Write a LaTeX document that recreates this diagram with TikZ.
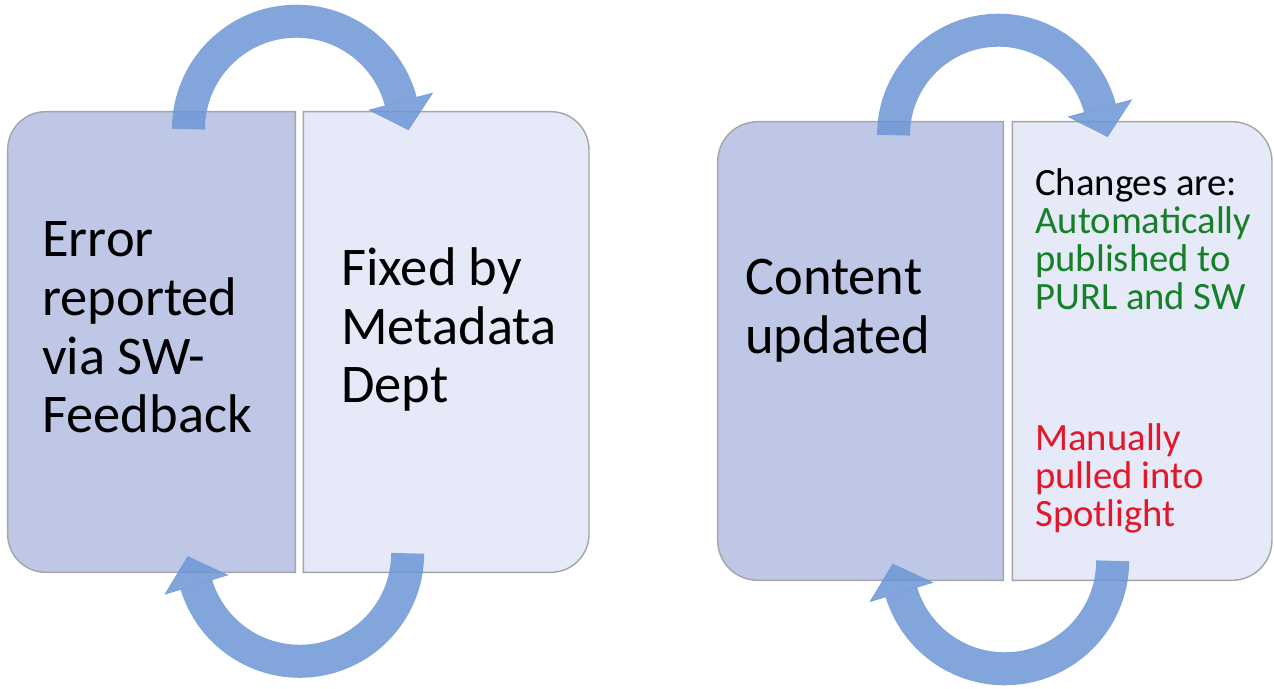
\documentclass[tikz,border=0pt]{standalone}
\usepackage{fontspec}
\setmainfont{Carlito}
\usetikzlibrary{arrows.meta, positioning}
\definecolor{darkbox}   {RGB}{190, 200, 230}
\definecolor{lightbox}  {RGB}{229, 233, 248}
\definecolor{edgegray}  {RGB}{165, 165, 165}
\definecolor{arrowblue} {RGB}{108, 150, 214}
\definecolor{autogreen} {RGB}{ 22, 128,  40}
\definecolor{manualred} {RGB}{228,  22,  40}
\tikzset{
	stagebox/.style={
		rectangle, inner sep=0pt, draw=none,
		minimum height=9.2cm
	},
	boxline/.style={
		draw=edgegray, line width=0.8pt
	},
	bigtext/.style={
		anchor=north west, inner sep=0pt, align=left,
		font=\fontsize{31}{33.5}\selectfont
	},
	smalltext/.style={
		anchor=north west, inner sep=0pt, align=left,
		font=\fontsize{22}{21.6}\selectfont
	},
	cyclearrow/.style={
		-{Triangle[length=0.6cm, width=1.34cm, line width=0.4pt]},
		line width=0.66cm, draw=arrowblue, opacity=0.85
	}
}
\begin{document}
\begin{tikzpicture}[x=0.02cm, y=0.02cm]
		\useasboundingbox (0,0) rectangle (1274,-689);
		
		%% ===============================
		%%  LEFT CYCLE
		%% ===============================
		\node[stagebox, minimum width=5.74cm] (err) at (151.5,-342) {};
		\node[stagebox, minimum width=5.7cm, right=0.16cm of err] (fix) {};
		
		\draw[boxline, fill=darkbox] (err.north east) [rounded corners=0.76cm]
		-- (err.north west) -- (err.south west) [sharp corners] -- (err.south east) -- cycle;
		\draw[boxline, fill=lightbox] (fix.north west) [rounded corners=0.76cm]
		-- (fix.north east) -- (fix.south east) [sharp corners] -- (fix.south west) -- cycle;
		
		\node[bigtext] (errtext) at (42,-221) {Error\\reported\\via SW-\\Feedback};
		\node[bigtext] (fixtext) at (341,-247) {Fixed by\\Metadata\\Dept};
		
		%% ===============================
		%%  RIGHT CYCLE
		%% ===============================
		\node[stagebox, minimum width=5.7cm, minimum height=9.16cm] (cont) at (860.5,-351) {};
		\node[stagebox, minimum width=5.18cm, minimum height=9.16cm, right=0.18cm of cont] (chg) {};
		
		\draw[boxline, fill=darkbox] (cont.north east) [rounded corners=0.8cm]
		-- (cont.north west) -- (cont.south west) [sharp corners] -- (cont.south east) -- cycle;
		\draw[boxline, fill=lightbox] (chg.north west) [rounded corners=0.8cm]
		-- (chg.north east) -- (chg.south east) [sharp corners] -- (chg.south west) -- cycle;
		
		\node[bigtext] (conttext) at (745,-259) {Content\\updated};
		\node[smalltext] (chgtext) at (1035,-168) {Changes are:\\
			\textcolor{autogreen}{Automatically}\\
			\textcolor{autogreen}{published to}\\
			\textcolor{autogreen}{PURL and SW}\\[59pt]
			\textcolor{manualred}{Manually}\\
			\textcolor{manualred}{pulled into}\\
			\textcolor{manualred}{Spotlight}};
		
		%% ===============================
		%%  ARROWS
		%% ===============================
		
		% err -> fix (over the top)
		\draw[cyclearrow] ([xshift=0.74cm, yshift=-0.35cm]err.north)
		arc[start angle=180, end angle=15, radius=2.16cm] -- ++(-75:0.6cm);
		
		% fix -> err (underneath)
		\draw[cyclearrow] ([xshift=-0.77cm, yshift=0.38cm]fix.south)
		arc[start angle=0, end angle=-163, radius=2.16cm] -- ++(107:0.6cm);
		
		% cont -> chg (over the top)
		\draw[cyclearrow] ([xshift=0.66cm, yshift=-0.27cm]cont.north)
		arc[start angle=180, end angle=15, radius=2.1cm] -- ++(-75:0.6cm);
		
		% chg -> cont (underneath)
		\draw[cyclearrow] ([xshift=-0.59cm, yshift=0.39cm]chg.south)
		arc[start angle=0, end angle=-163, radius=2.16cm] -- ++(107:0.6cm);
		
	\end{tikzpicture}
\end{document}
